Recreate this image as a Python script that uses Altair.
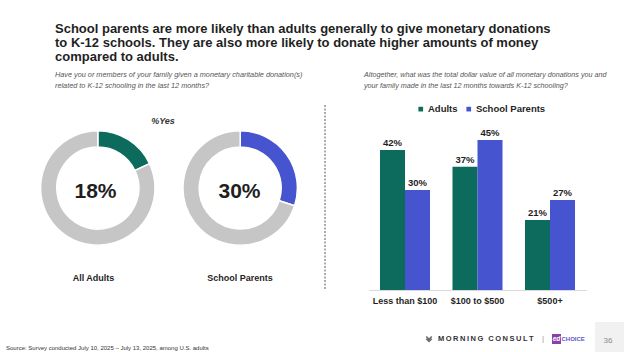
import math
import altair as alt
import pandas as pd

# ---------------- data ----------------
title_lines = [
    "School parents are more likely than adults generally to give monetary donations",
    "to K-12 schools. They are also more likely to donate higher amounts of money",
    "compared to adults.",
]
left_question = [
    "Have you or members of your family given a monetary charitable donation(s)",
    "related to K-12 schooling in the last 12 months?",
]
right_question = [
    "Altogether, what was the total dollar value of all monetary donations you and",
    "your family made in the last 12 months towards K-12 schooling?",
]
donut_groups = ["All Adults", "School Parents"]
donut_yes = [18, 30]
donut_caption = "%Yes"

buckets = ["Less than $100", "$100 to $500", "$500+"]
series = ["Adults", "School Parents"]
adults_vals = [42, 37, 21]
parents_vals = [30, 45, 27]

source_text = "Source: Survey conducted July 10, 2025 \u2013 July 13, 2025, among U.S. adults"
brand_text = "MORNING CONSULT"
partner_text = "CHOICE"
page_number = "36"

TEAL = "#0d6b5e"
BLUE = "#4754d0"
GRAY = "#c6c6c6"
DARK = "#1f1f1f"
FONT = "Liberation Sans"

# ---------------- tables ----------------
arc_rows = []
for g, y in zip(donut_groups, donut_yes):
    arc_rows.append({"group": g, "part": "Yes", "k": 0, "value": y, "key": g})
    arc_rows.append({"group": g, "part": "No", "k": 1, "value": 100 - y, "key": "Rest"})
arc_df = pd.DataFrame(arc_rows)
donut_df = pd.DataFrame({"group": donut_groups, "yes": donut_yes})
donut_df["label"] = donut_df["yes"].astype(str) + "%"

bar_rows = []
for b, a, p in zip(buckets, adults_vals, parents_vals):
    bar_rows.append({"bucket": b, "series": series[0], "value": a})
    bar_rows.append({"bucket": b, "series": series[1], "value": p})
bar_df = pd.DataFrame(bar_rows)
bar_df["label"] = bar_df["value"].astype(str) + "%"

one = pd.DataFrame({"d": [0]})

# ---------------- layers ----------------
title = alt.Chart(one).mark_text(
    align="left", baseline="alphabetic", font=FONT, fontSize=13, fontWeight="bold",
    color=DARK, lineHeight=14
).encode(x=alt.value(55), y=alt.value(33), text=alt.value(title_lines))

q_left = alt.Chart(one).mark_text(
    align="left", baseline="alphabetic", font=FONT, fontSize=7.3, fontStyle="italic",
    color="#555555", lineHeight=10.6
).encode(x=alt.value(55), y=alt.value(77), text=alt.value(left_question))

q_right = alt.Chart(one).mark_text(
    align="left", baseline="alphabetic", font=FONT, fontSize=7.2, fontStyle="italic",
    color="#555555", lineHeight=10.6
).encode(x=alt.value(364), y=alt.value(77), text=alt.value(right_question))

caption = alt.Chart(one).mark_text(
    align="center", baseline="middle", font=FONT, fontSize=9, fontWeight="bold",
    fontStyle="italic", color="#333333"
).encode(x=alt.value(163), y=alt.value(121), text=alt.value(donut_caption))

arcs = alt.Chart(arc_df).transform_window(
    end="sum(value)", groupby=["group"], sort=[alt.SortField("k")]
).transform_calculate(start="datum.end - datum.value").mark_arc(
    innerRadius=41, outerRadius=57.2, stroke="white", strokeWidth=1.5
).encode(
    x=alt.X("group:N", scale=alt.Scale(type="point", domain=donut_groups, range=[97.8, 240.2], padding=0), axis=None),
    y=alt.value(188),
    theta=alt.Theta("start:Q", scale=alt.Scale(domain=[0, 100], range=[0, 2 * math.pi])),
    theta2="end:Q",
    color=alt.Color("key:N", scale=alt.Scale(domain=donut_groups + ["Rest"], range=[TEAL, BLUE, GRAY]), legend=None),
)

center_text = alt.Chart(donut_df).mark_text(
    align="center", baseline="alphabetic", font=FONT, fontSize=21, fontWeight="bold", color=DARK
).encode(
    x=alt.X("group:N", scale=alt.Scale(type="point", domain=donut_groups, range=[95.5, 239.5], padding=0), axis=None),
    y=alt.value(197.5),
    text="label:N",
)

group_labels = alt.Chart(donut_df).mark_text(
    align="center", baseline="alphabetic", font=FONT, fontSize=9, fontWeight="bold", color=DARK
).encode(
    x=alt.X("group:N", scale=alt.Scale(type="point", domain=donut_groups, range=[93.5, 240], padding=0), axis=None),
    y=alt.value(280.5),
    text="group:N",
)

divider = alt.Chart(one).mark_rule(color="#777777", strokeWidth=1.2, strokeDash=[2, 1.5]).encode(
    x=alt.value(325), y=alt.value(105), y2=alt.value(290)
)

xscale = alt.Scale(domain=buckets, range=[368.75, 586.25], paddingInner=0.31, paddingOuter=0.155)
yscale = alt.Scale(domain=[0, 45], range=[290, 140], nice=False, zero=True)
xoff = alt.XOffset("series:N", scale=alt.Scale(domain=series, paddingInner=0, paddingOuter=0))

bars = alt.Chart(bar_df).mark_bar().encode(
    x=alt.X("bucket:N", scale=xscale, sort=buckets, title=None,
            axis=alt.Axis(offset=-62, ticks=False, grid=False, domainColor="#d9d9d9", domainWidth=1,
                          labelFont=FONT, labelFontSize=9, labelFontWeight="bold", labelColor=DARK,
                          labelPadding=6, labelAngle=0)),
    xOffset=xoff,
    y=alt.Y("value:Q", scale=yscale, axis=None),
    color=alt.Color("series:N", scale=alt.Scale(domain=series, range=[TEAL, BLUE]),
                    legend=alt.Legend(orient="none", legendX=416, legendY=104, direction="horizontal",
                                      title=None, symbolType="square", symbolSize=22, symbolStrokeWidth=0,
                                      labelFont=FONT, labelFontSize=9.5, labelFontWeight="bold",
                                      labelColor=DARK, labelOffset=2.5, columnPadding=6)),
)

bar_labels = alt.Chart(bar_df).mark_text(
    align="center", baseline="alphabetic", dy=-4, font=FONT, fontSize=9.5, fontWeight="bold", color=DARK
).encode(
    x=alt.X("bucket:N", scale=xscale, sort=buckets, axis=None),
    xOffset=xoff,
    y=alt.Y("value:Q", scale=yscale, axis=None),
    text="label:N",
)

source = alt.Chart(one).mark_text(
    align="left", baseline="middle", font=FONT, fontSize=6, color="#333333"
).encode(x=alt.value(6), y=alt.value(348), text=alt.value(source_text))

logo_icon = alt.Chart(one).mark_point(
    shape="M-1,-0.9 L0,0.1 L1,-0.9 M-1,-0.1 L0,0.9 L1,-0.1", size=30, stroke="#333333",
    strokeWidth=1.6, filled=False
).encode(x=alt.value(429), y=alt.value(339))

brand = alt.Chart(one).mark_text(
    align="left", baseline="middle", font=FONT, fontSize=7.5, fontWeight="bold", color="#333333"
).encode(x=alt.value(438), y=alt.value(339), text=alt.value("\u2009".join(brand_text)))

sep = alt.Chart(one).mark_text(
    align="center", baseline="middle", font=FONT, fontSize=8, color="#999999"
).encode(x=alt.value(543), y=alt.value(339), text=alt.value("|"))

ed_box = alt.Chart(one).mark_rect(color="#8b3fa8").encode(
    x=alt.value(552), x2=alt.value(561), y=alt.value(334), y2=alt.value(344)
)
ed_text = alt.Chart(one).mark_text(
    align="center", baseline="middle", font=FONT, fontSize=6.5, fontStyle="italic", fontWeight="bold",
    color="white"
).encode(x=alt.value(556.5), y=alt.value(339), text=alt.value("ed"))
choice = alt.Chart(one).mark_text(
    align="left", baseline="middle", font=FONT, fontSize=6, fontWeight="bold", color="#5b57c8"
).encode(x=alt.value(561.5), y=alt.value(339), text=alt.value(partner_text))

page_box = alt.Chart(one).mark_rect(color="#f1f1f1").encode(
    x=alt.value(595), x2=alt.value(624), y=alt.value(322), y2=alt.value(352)
)
page = alt.Chart(one).mark_text(
    align="center", baseline="middle", font=FONT, fontSize=8, color="#8a8a8a"
).encode(x=alt.value(608), y=alt.value(341), text=alt.value(page_number))

chart = alt.layer(
    title, q_left, q_right, caption, arcs, center_text, group_labels, divider,
    bars, bar_labels, source, logo_icon, brand, sep, ed_box, ed_text, choice, page_box, page
).resolve_scale(
    x="independent", y="independent", color="independent", theta="independent"
).properties(
    width=624, height=352, autosize=alt.AutoSizeParams(type="none"), padding=0, background="white"
).configure_view(stroke="transparent")

chart.save("out.html", embed_options={"renderer": "svg", "actions": False})
